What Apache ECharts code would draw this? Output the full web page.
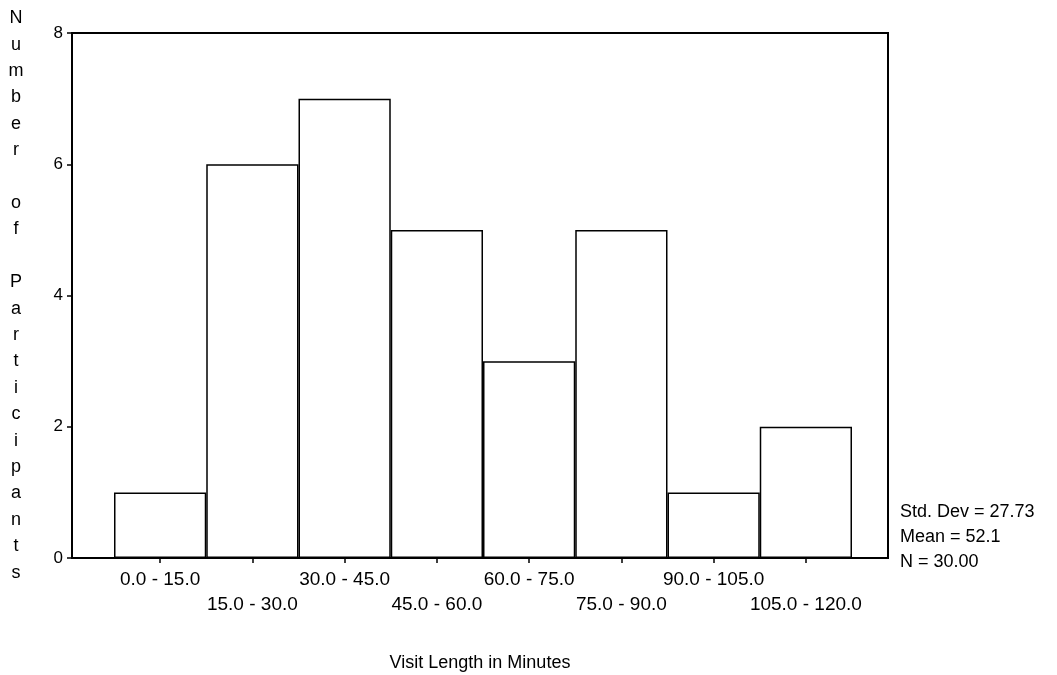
<!DOCTYPE html>
<html>
<head>
<meta charset="utf-8">
<script src="https://cdn.jsdelivr.net/npm/echarts@6/dist/echarts.min.js"></script>
<style>html,body{margin:0;padding:0;background:#fff;}#c{width:1057px;height:675px;}</style>
</head>
<body>
<div id="c"></div>
<script>
const categories = ['0.0 - 15.0','15.0 - 30.0','30.0 - 45.0','45.0 - 60.0','60.0 - 75.0','75.0 - 90.0','90.0 - 105.0','105.0 - 120.0'];
const counts = [1, 6, 7, 5, 3, 5, 1, 2];
const yTicks = [0, 2, 4, 6, 8];
const yTitle = 'Number of Participants';
const xTitle = 'Visit Length in Minutes';
const stats = ['Std. Dev = 27.73', 'Mean = 52.1', 'N = 30.00'];

const FONT = "'Liberation Sans', Arial, sans-serif";
const chart = echarts.init(document.getElementById('c'));
const yMin = yTicks[0], yMax = yTicks[yTicks.length-1], yStep = yTicks[1]-yTicks[0];

chart.setOption({
  backgroundColor: '#fff',
  animation: false,
  textStyle: { fontFamily: FONT, color: '#000' },
  grid: [
    { left: 72, right: 169, top: 33, bottom: 117, show: true, borderColor: '#000', borderWidth: 2, backgroundColor: 'transparent', containLabel: false, outerBoundsMode: 'none' },
    { left: 114, right: 205, top: 33, bottom: 117, containLabel: false, outerBoundsMode: 'none' }
  ],
  xAxis: [
    { gridIndex: 0, type: 'value', min: 0, max: 1,
      axisLine: { show: true, lineStyle: { color: '#000', width: 2 } },
      axisTick: { show: false }, axisLabel: { show: false }, splitLine: { show: false },
      name: xTitle, nameLocation: 'middle', nameGap: 96,
      nameTextStyle: { fontFamily: FONT, fontSize: 18, color: '#000' } },
    { gridIndex: 1, type: 'category', data: categories, boundaryGap: true,
      axisLine: { show: false },
      axisTick: { show: true, alignWithLabel: true, length: 5, lineStyle: { color: '#000', width: 1.5 } },
      axisLabel: { interval: 0, margin: 9, fontFamily: FONT, fontSize: 19, color: '#000', lineHeight: 25,
        formatter: function (v, i) { return i % 2 === 0 ? v : '\n' + v; } },
      splitLine: { show: false } }
  ],
  yAxis: [
    { gridIndex: 0, type: 'value', min: yMin, max: yMax, interval: yStep,
      axisLine: { show: true, lineStyle: { color: '#000', width: 2 } },
      axisTick: { show: true, inside: false, length: 5, lineStyle: { color: '#000', width: 1.5 } },
      axisLabel: { margin: 9, fontFamily: FONT, fontSize: 17, color: '#000' },
      splitLine: { show: false },
      name: yTitle.split('').join('\n'), nameLocation: 'middle', nameRotate: 0, nameGap: 56,
      nameTextStyle: { fontFamily: FONT, fontSize: 18, color: '#000', align: 'center', verticalAlign: 'middle', lineHeight: 26.4 } },
    { gridIndex: 1, type: 'value', min: yMin, max: yMax, show: false, splitLine: { show: false } }
  ],
  series: [{
    type: 'bar', xAxisIndex: 1, yAxisIndex: 1, data: counts,
    barCategoryGap: 0, barGap: 0,
    itemStyle: { color: '#fff', borderColor: '#000', borderWidth: 1.5 },
    emphasis: { disabled: true }, silent: true
  }],
  graphic: [{
    type: 'text', left: 900, top: 500,
    style: { text: stats.join('\n'), font: '18px ' + FONT, fill: '#000', lineHeight: 25 }
  }]
});
</script>
</body>
</html>
